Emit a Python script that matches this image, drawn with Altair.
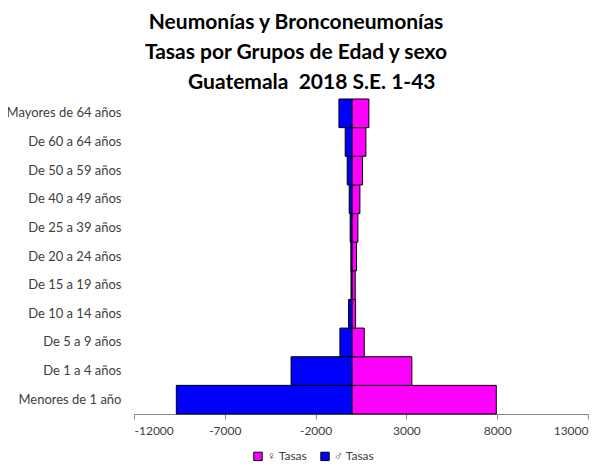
import altair as alt
import pandas as pd

categories = ["Menores de 1 año", "De 1 a 4 años", "De 5 a 9 años", "De 10 a 14 años",
              "De 15 a 19 años", "De 20 a 24 años", "De 25 a 39 años", "De 40 a 49 años",
              "De 50 a 59 años", "De 60 a 64 años", "Mayores de 64 años"]
female = [7950, 3300, 680, 200, 180, 255, 330, 440, 585, 770, 935]
male = [-9670, -3350, -660, -185, -50, -60, -95, -150, -260, -370, -715]
series = ["♀ Tasas", "♂ Tasas"]
ticks = [-12000, -7000, -2000, 3000, 8000, 13000]

rows = []
for c, f, m in zip(categories, female, male):
    rows.append({"grupo": c, "serie": series[0], "valor": f})
    rows.append({"grupo": c, "serie": series[1], "valor": m})
df = pd.DataFrame(rows)

font = "Lato"

chart = alt.Chart(df).mark_bar(stroke="black", strokeWidth=1).encode(
    x=alt.X("valor:Q", stack=None,
            scale=alt.Scale(domain=[-12000, 13000], nice=False, zero=False),
            axis=alt.Axis(values=ticks, labelExpr="'' + datum.value", title=None, grid=False,
                          domainColor="#868686", tickColor="#868686", tickSize=5,
                          labelColor="#404040", labelFontSize=12, labelFont=font,
                          labelPadding=6)),
    y=alt.Y("grupo:N", sort=list(reversed(categories)),
            scale=alt.Scale(paddingInner=0, paddingOuter=0),
            axis=alt.Axis(title=None, ticks=False, domain=False, labelPadding=13,
                          labelColor="#404040", labelFontSize=13, labelFont=font)),
    color=alt.Color("serie:N", scale=alt.Scale(domain=series, range=["#FF00FF", "#0000FF"]),
                    legend=alt.Legend(title=None, orient="none", direction="horizontal",
                                      legendX=118, legendY=351, symbolType="square",
                                      symbolSize=70, symbolStrokeColor="black",
                                      symbolStrokeWidth=1, labelFontSize=12,
                                      labelFont=font, labelColor="#404040",
                                      labelOffset=3, columnPadding=10)),
    order=alt.Order("serie:N"),
).properties(
    width=454, height=315,
    title=alt.TitleParams(
        text=["Neumonías y Bronconeumonías", "Tasas por Grupos de Edad y sexo",
              "\u200d\u2002\u2002\u2002Guatemala\u00a0\u00a02018 S.E. 1-43"],
        fontSize=21, font=font, fontWeight="bold", color="black",
        lineHeight=30, anchor="middle", dx=-65, offset=6),
    autosize=alt.AutoSizeParams(type="none"),
    padding={"left": 126, "top": 91, "right": 10, "bottom": 60},
).configure_view(stroke=None)

chart.save("out.html", embed_options={"renderer": "svg", "actions": False})
